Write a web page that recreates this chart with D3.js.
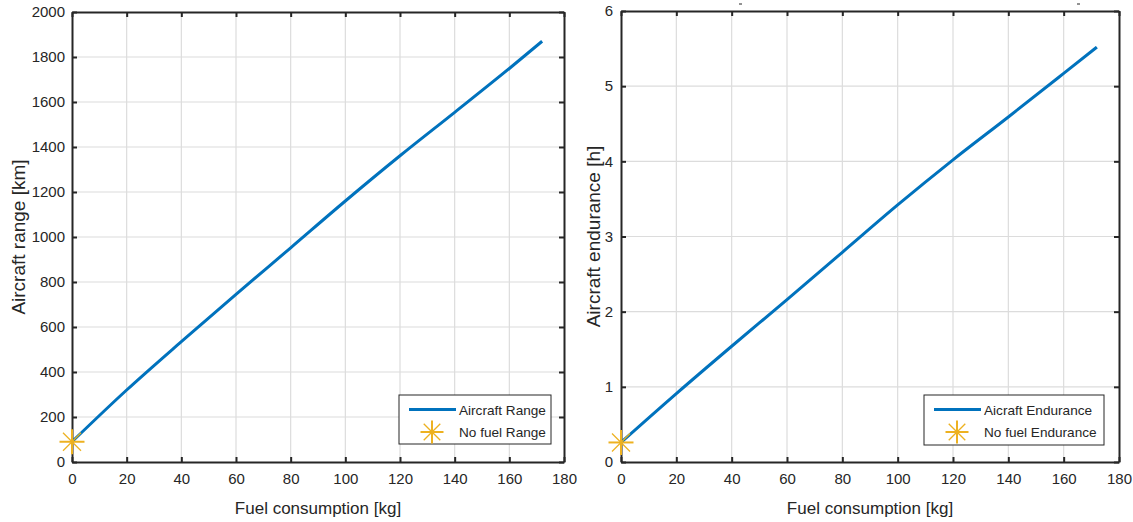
<!DOCTYPE html>
<html>
<head>
<meta charset="utf-8">
<script src="https://cdn.jsdelivr.net/npm/d3@7"></script>
<style>
  html, body { margin: 0; padding: 0; background: #ffffff; }
  svg { display: block; }
  text { font-family: "Liberation Sans", Arial, Helvetica, sans-serif; fill: #262626; }
</style>
</head>
<body>
<svg id="chart" width="1133" height="522"></svg>
<script>
// Fuel burned [kg] at each sampled point
const fuel = [0, 20, 40, 60, 80, 100, 120, 140, 160, 172];
// Range reached [km] for each fuel value
const rangeKm = [90, 320, 535, 745, 952, 1160, 1361, 1554, 1749, 1870];
// Endurance [h] for each fuel value
const enduranceH = [0.26, 0.91, 1.54, 2.16, 2.79, 3.42, 4.02, 4.59, 5.17, 5.52];
// Zero-fuel points
const noFuelRange = [0, 90];
const noFuelEndurance = [0, 0.26];
// Tick values
const xTicks = [0, 20, 40, 60, 80, 100, 120, 140, 160, 180];
const rangeTicks = [0, 200, 400, 600, 800, 1000, 1200, 1400, 1600, 1800, 2000];
const enduranceTicks = [0, 1, 2, 3, 4, 5, 6];

const BLUE = "#0072BD";
const ORANGE = "#EDB120";
const AXIS = "#262626";
const GRID = "#dcdcdc";

const svg = d3.select("#chart");

const panels = [
  {
    left: 72, right: 564, top: 12, bottom: 462,
    yMax: 2000, yTicks: rangeTicks, y: rangeKm, star: noFuelRange,
    yLabel: "Aircraft range [km]", yLabelX: 25, yPad: 7,
    lineName: "Aircraft Range", starName: "No fuel Range",
    legend: { x: 399, y: 395, w: 152, h: 49 }
  },
  {
    left: 621, right: 1119, top: 11, bottom: 462,
    yMax: 6, yTicks: enduranceTicks, y: enduranceH, star: noFuelEndurance,
    yLabel: "Aircraft endurance [h]", yLabelX: 600, yPad: 8,
    lineName: "Aicraft Endurance", starName: "No fuel Endurance",
    legend: { x: 924, y: 395, w: 180, h: 50 }
  }
];

// asterisk marker: plus arms plus shorter diagonal arms
function drawStar(g, cx, cy, r) {
  const d = r * 0.72;
  g.append("line").attr("x1", cx - r).attr("x2", cx + r).attr("y1", cy).attr("y2", cy)
    .attr("stroke", ORANGE).attr("stroke-width", 2);
  g.append("line").attr("x1", cx).attr("x2", cx).attr("y1", cy - r).attr("y2", cy + r)
    .attr("stroke", ORANGE).attr("stroke-width", 2);
  g.append("line").attr("x1", cx - d).attr("x2", cx + d).attr("y1", cy - d).attr("y2", cy + d)
    .attr("stroke", ORANGE).attr("stroke-width", 1.3);
  g.append("line").attr("x1", cx - d).attr("x2", cx + d).attr("y1", cy + d).attr("y2", cy - d)
    .attr("stroke", ORANGE).attr("stroke-width", 1.3);
}

panels.forEach(p => {
  const x = d3.scaleLinear().domain([0, 180]).range([p.left, p.right]);
  const y = d3.scaleLinear().domain([0, p.yMax]).range([p.bottom, p.top]);
  const g = svg.append("g");

  // grid
  g.append("g").selectAll("line").data(xTicks.slice(1, -1)).join("line")
    .attr("x1", d => x(d)).attr("x2", d => x(d))
    .attr("y1", p.top).attr("y2", p.bottom)
    .attr("stroke", GRID).attr("stroke-width", 1.2);
  g.append("g").selectAll("line").data(p.yTicks.slice(1, -1)).join("line")
    .attr("y1", d => y(d)).attr("y2", d => y(d))
    .attr("x1", p.left).attr("x2", p.right)
    .attr("stroke", GRID).attr("stroke-width", 1.2);

  // axes with inward ticks (bottom/left labelled, top/right mirrored)
  const tl = 5;
  const fmt = d3.format("d");
  const axB = d3.axisBottom(x).tickValues(xTicks).tickFormat(fmt).tickSizeInner(-tl).tickSizeOuter(0).tickPadding(11);
  const axT = d3.axisTop(x).tickValues(xTicks).tickSizeInner(-tl).tickSizeOuter(0).tickFormat("");
  const axL = d3.axisLeft(y).tickValues(p.yTicks).tickFormat(fmt).tickSizeInner(-tl).tickSizeOuter(0).tickPadding(p.yPad);
  const axR = d3.axisRight(y).tickValues(p.yTicks).tickSizeInner(-tl).tickSizeOuter(0).tickFormat("");

  [[axB, `translate(0,${p.bottom})`], [axT, `translate(0,${p.top})`],
   [axL, `translate(${p.left},0)`], [axR, `translate(${p.right},0)`]].forEach(([ax, tr]) => {
    const a = g.append("g").attr("transform", tr).call(ax);
    a.select(".domain").attr("stroke", AXIS).attr("stroke-width", 2);
    a.selectAll(".tick line").attr("stroke", AXIS).attr("stroke-width", 2);
    a.selectAll(".tick text").attr("font-size", 15).attr("fill", AXIS)
      .attr("font-family", "'Liberation Sans', Arial, sans-serif");
  });

  // data line
  const line = d3.line().x((d, i) => x(fuel[i])).y(d => y(d)).curve(d3.curveMonotoneX);
  g.append("path").datum(p.y).attr("d", line)
    .attr("fill", "none").attr("stroke", BLUE).attr("stroke-width", 3);

  // zero-fuel marker
  drawStar(g, x(p.star[0]), y(p.star[1]), 12.5);

  // axis labels
  g.append("text").attr("x", (p.left + p.right) / 2).attr("y", 514)
    .attr("text-anchor", "middle").attr("font-size", 17).text("Fuel consumption [kg]");
  g.append("text")
    .attr("transform", `translate(${p.yLabelX},${(p.top + p.bottom) / 2}) rotate(-90)`)
    .attr("text-anchor", "middle").attr("font-size", 19).text(p.yLabel);

  // legend
  const L = p.legend;
  const lg = g.append("g");
  lg.append("rect").attr("x", L.x).attr("y", L.y).attr("width", L.w).attr("height", L.h)
    .attr("fill", "#ffffff").attr("stroke", AXIS).attr("stroke-width", 1);
  lg.append("line").attr("x1", L.x + 10).attr("x2", L.x + 57)
    .attr("y1", L.y + 14.5).attr("y2", L.y + 14.5)
    .attr("stroke", BLUE).attr("stroke-width", 3);
  lg.append("text").attr("x", L.x + 60).attr("y", L.y + 19.5)
    .attr("font-size", 13.6).text(p.lineName);
  drawStar(lg, L.x + 33, L.y + 37, 11.5);
  lg.append("text").attr("x", L.x + 60).attr("y", L.y + 42)
    .attr("font-size", 13.6).text(p.starName);
});

// small stray marks above the right panel
svg.append("line").attr("x1", 739).attr("x2", 742).attr("y1", 4).attr("y2", 4)
  .attr("stroke", AXIS).attr("stroke-width", 1);
svg.append("line").attr("x1", 1077).attr("x2", 1080).attr("y1", 4).attr("y2", 4)
  .attr("stroke", AXIS).attr("stroke-width", 1);
</script>
</body>
</html>
